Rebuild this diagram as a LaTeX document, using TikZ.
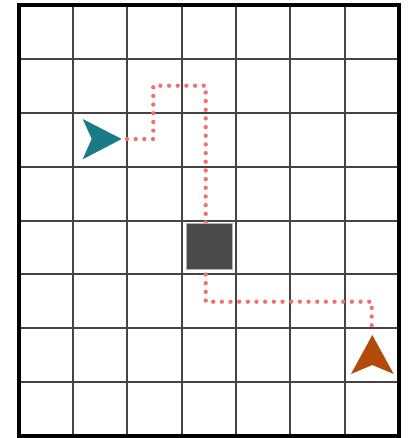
\documentclass[tikz,border=0pt]{standalone}
\usetikzlibrary{calc}
\definecolor{gridc}{RGB}{68,68,68}
\definecolor{tealc}{RGB}{27,122,135}
\definecolor{orangec}{RGB}{178,74,14}
\definecolor{dotc}{RGB}{240,112,108}
\definecolor{blockc}{RGB}{74,74,74}
\begin{document}
\begin{tikzpicture}[x=1pt,y=-1pt,
  gridline/.style={draw=gridc,line width=2pt},
  border/.style={draw=black,line width=4pt},
  trail/.style={draw=dotc,line width=4.3pt,line cap=round,dash pattern=on 0pt off 8.67pt},
  blockbox/.style={fill=blockc,draw=gray!60,line width=1pt}]
\useasboundingbox (0,0) rectangle (409,438);
\fill[white] (0,0) rectangle (409,438);
% grid
\foreach \i in {1,...,6} {
  \draw[gridline] ({18.7+54.33*\i},5) -- ({18.7+54.33*\i},436);
}
\foreach \j in {1,...,7} {
  \draw[gridline] (18.7,{5+53.875*\j}) -- (399,{5+53.875*\j});
}
\draw[border] (18.7,5) rectangle (399,436);
% trail
\coordinate (s) at (127,139);
\coordinate (p1) at (153.3,139);
\coordinate (p2) at (153.3,85.7);
\coordinate (p3) at (205.7,85.7);
\coordinate (p4) at (205.7,301.7);
\coordinate (p5) at (371.7,301.7);
\coordinate (e) at (371.7,327.7);
\draw[trail] (s) -- (p1) -- (p2) -- (p3) -- (p4) -- (p5) -- (e);
% obstacle
\node[blockbox,minimum width=46pt,minimum height=46pt,inner sep=0pt] (block) at (209.8,246.5) {};
% agents
\fill[tealc] (121.7,139) -- (82.7,119) -- (91.7,138.8) -- (82.7,159.3) -- cycle;
\fill[orangec] (372.3,335) -- (351,374) -- (372.3,365) -- (393.7,374) -- cycle;
\end{tikzpicture}
\end{document}
